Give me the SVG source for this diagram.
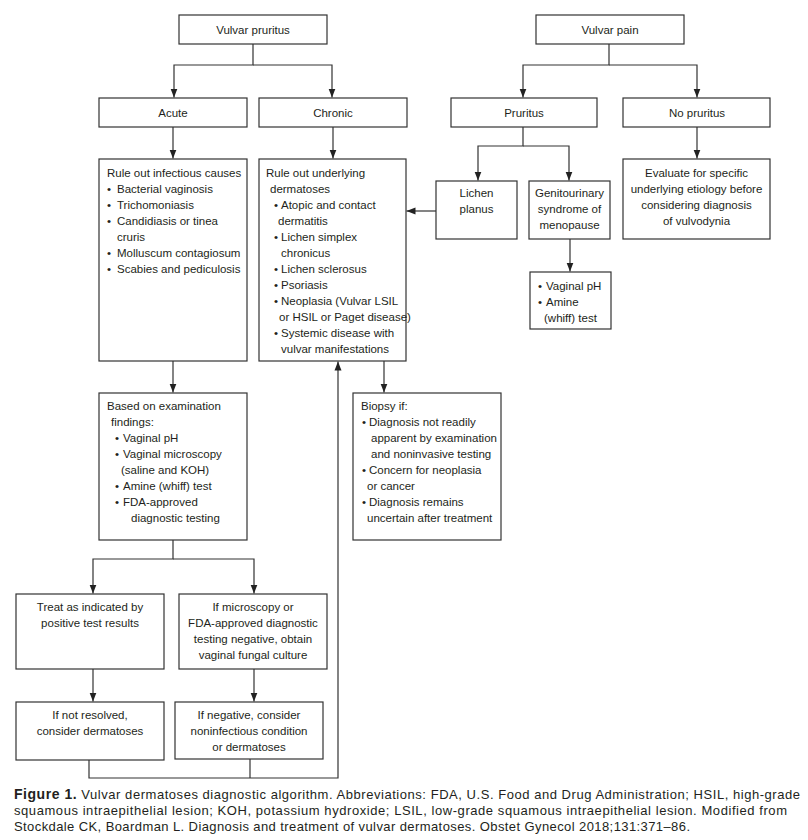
<svg xmlns="http://www.w3.org/2000/svg" width="808" height="840" viewBox="0 0 808 840">
<style>
.b{fill:#fff;stroke:#333;stroke-width:1.2}
.t{font-family:"Liberation Sans",Arial,sans-serif;font-size:11.5px;fill:#231f20}
.c{text-anchor:middle}
.ln{fill:none;stroke:#333;stroke-width:1.2}
.cap{font-family:"Liberation Sans",Arial,sans-serif;font-size:13px;fill:#231f20}
</style>
<defs>
<marker id="ah" markerUnits="userSpaceOnUse" markerWidth="10" markerHeight="8" refX="9" refY="4" orient="auto">
<path d="M0,0.5L9,4L0,7.5z" fill="#222"/>
</marker>
</defs>
<rect width="808" height="840" fill="#fff"/>
<g id="connectors">
<path class="ln" d="M253,44V65H174V97.5" marker-end="url(#ah)"/>
<path class="ln" d="M253,65H332V97.5" marker-end="url(#ah)"/>
<path class="ln" d="M609,44V65H523V97.5" marker-end="url(#ah)"/>
<path class="ln" d="M609,65H697V97.5" marker-end="url(#ah)"/>
<path class="ln" d="M173,127V158.5" marker-end="url(#ah)"/>
<path class="ln" d="M333,127V158.5" marker-end="url(#ah)"/>
<path class="ln" d="M523,127V146H478V180.5" marker-end="url(#ah)"/>
<path class="ln" d="M523,146H569V180.5" marker-end="url(#ah)"/>
<path class="ln" d="M697,127V158.5" marker-end="url(#ah)"/>
<path class="ln" d="M570,239V271.5" marker-end="url(#ah)"/>
<path class="ln" d="M436,211H406.5" marker-end="url(#ah)"/>
<path class="ln" d="M173,361V392.5" marker-end="url(#ah)"/>
<path class="ln" d="M384,361V392.5" marker-end="url(#ah)"/>
<path class="ln" d="M173,540V559H93V593.5" marker-end="url(#ah)"/>
<path class="ln" d="M173,559H254V593.5" marker-end="url(#ah)"/>
<path class="ln" d="M93,669V701.5" marker-end="url(#ah)"/>
<path class="ln" d="M254,669V701.5" marker-end="url(#ah)"/>
<path class="ln" d="M89,760V778H338V361.5" marker-end="url(#ah)"/>
<path class="ln" d="M250,759V778"/>
</g>
<g id="vulvar-pruritus"><rect class="b" x="179" y="15" width="148" height="29"/><text class="t c" x="253" y="34">Vulvar pruritus</text></g>
<g id="acute"><rect class="b" x="99" y="98" width="148" height="29"/><text class="t c" x="173" y="117">Acute</text></g>
<g id="chronic"><rect class="b" x="259" y="98" width="148" height="29"/><text class="t c" x="333" y="117">Chronic</text></g>
<g id="vulvar-pain"><rect class="b" x="536" y="15" width="148" height="29"/><text class="t c" x="610" y="34">Vulvar pain</text></g>
<g id="pruritus"><rect class="b" x="451" y="98" width="146" height="29"/><text class="t c" x="524" y="117">Pruritus</text></g>
<g id="no-pruritus"><rect class="b" x="623" y="98" width="147" height="29"/><text class="t c" x="697" y="117">No pruritus</text></g>
<g id="infectious"><rect class="b" x="99" y="159" width="148" height="202"/>
<text class="t"><tspan x="107" y="177">Rule out infectious causes</tspan>
<tspan x="107" y="193">•</tspan><tspan x="117">Bacterial vaginosis</tspan>
<tspan x="107" y="209">•</tspan><tspan x="117">Trichomoniasis</tspan>
<tspan x="107" y="225">•</tspan><tspan x="117">Candidiasis or tinea</tspan>
<tspan x="117" y="241">cruris</tspan>
<tspan x="107" y="257">•</tspan><tspan x="117">Molluscum contagiosum</tspan>
<tspan x="107" y="273">•</tspan><tspan x="117">Scabies and pediculosis</tspan></text></g>
<g id="rule-out-dermatoses"><rect class="b" x="259" y="159" width="147" height="202"/>
<text class="t"><tspan x="266" y="177">Rule out underlying</tspan>
<tspan x="270" y="193">dermatoses</tspan>
<tspan x="274" y="209">•</tspan><tspan x="281">Atopic and contact</tspan>
<tspan x="278" y="225">dermatitis</tspan>
<tspan x="274" y="241">•</tspan><tspan x="281">Lichen simplex</tspan>
<tspan x="281" y="257">chronicus</tspan>
<tspan x="274" y="273">•</tspan><tspan x="281">Lichen sclerosus</tspan>
<tspan x="274" y="289">•</tspan><tspan x="281">Psoriasis</tspan>
<tspan x="274" y="305">•</tspan><tspan x="281">Neoplasia (Vulvar LSIL</tspan>
<tspan x="279" y="321">or HSIL or Paget disease)</tspan>
<tspan x="274" y="337">•</tspan><tspan x="281">Systemic disease with</tspan>
<tspan x="281" y="353">vulvar manifestations</tspan></text></g>
<g id="lichen-planus"><rect class="b" x="436" y="181" width="81" height="58"/><text class="t c"><tspan x="476.5" y="197">Lichen</tspan><tspan x="476.5" y="213">planus</tspan></text></g>
<g id="gsm"><rect class="b" x="529" y="181" width="81" height="58"/><text class="t c"><tspan x="569.5" y="197">Genitourinary</tspan><tspan x="569.5" y="213">syndrome of</tspan><tspan x="569.5" y="229">menopause</tspan></text></g>
<g id="evaluate"><rect class="b" x="623" y="159" width="147" height="80"/><text class="t c"><tspan x="696.5" y="177">Evaluate for specific</tspan><tspan x="696.5" y="193">underlying etiology before</tspan><tspan x="696.5" y="209">considering diagnosis</tspan><tspan x="696.5" y="225">of vulvodynia</tspan></text></g>
<g id="vaginal-ph"><rect class="b" x="530" y="272" width="81" height="57"/>
<text class="t"><tspan x="538" y="290">•</tspan><tspan x="546">Vaginal pH</tspan>
<tspan x="538" y="306">•</tspan><tspan x="546">Amine</tspan>
<tspan x="544" y="322">(whiff) test</tspan></text></g>
<g id="examination"><rect class="b" x="99" y="393" width="148" height="147"/>
<text class="t"><tspan x="107" y="410">Based on examination</tspan>
<tspan x="111" y="426">findings:</tspan>
<tspan x="115" y="442">•</tspan><tspan x="123">Vaginal pH</tspan>
<tspan x="115" y="458">•</tspan><tspan x="123">Vaginal microscopy</tspan>
<tspan x="121" y="474">(saline and KOH)</tspan>
<tspan x="115" y="490">•</tspan><tspan x="123">Amine (whiff) test</tspan>
<tspan x="115" y="506">•</tspan><tspan x="123">FDA-approved</tspan>
<tspan x="131" y="522">diagnostic testing</tspan></text></g>
<g id="biopsy"><rect class="b" x="353" y="393" width="148" height="147"/>
<text class="t"><tspan x="361" y="410">Biopsy if:</tspan>
<tspan x="362" y="426">•</tspan><tspan x="369">Diagnosis not readily</tspan>
<tspan x="371" y="442">apparent by examination</tspan>
<tspan x="371" y="458">and noninvasive testing</tspan>
<tspan x="362" y="474">•</tspan><tspan x="369">Concern for neoplasia</tspan>
<tspan x="367" y="490">or cancer</tspan>
<tspan x="362" y="506">•</tspan><tspan x="369">Diagnosis remains</tspan>
<tspan x="367" y="522">uncertain after treatment</tspan></text></g>
<g id="treat"><rect class="b" x="16" y="594" width="148" height="75"/><text class="t c"><tspan x="90" y="611">Treat as indicated by</tspan><tspan x="90" y="627">positive test results</tspan></text></g>
<g id="microscopy-negative"><rect class="b" x="179" y="594" width="148" height="75"/><text class="t c"><tspan x="253" y="611">If microscopy or</tspan><tspan x="253" y="627">FDA-approved diagnostic</tspan><tspan x="253" y="643">testing negative, obtain</tspan><tspan x="253" y="659">vaginal fungal culture</tspan></text></g>
<g id="not-resolved"><rect class="b" x="16" y="702" width="148" height="58"/><text class="t c"><tspan x="90" y="719">If not resolved,</tspan><tspan x="90" y="735">consider dermatoses</tspan></text></g>
<g id="if-negative"><rect class="b" x="175" y="702" width="148" height="57"/><text class="t c"><tspan x="249" y="719">If negative, consider</tspan><tspan x="249" y="735">noninfectious condition</tspan><tspan x="249" y="751">or dermatoses</tspan></text></g>
<g id="caption">
<text class="cap" x="14" y="799" textLength="786" lengthAdjust="spacing"><tspan font-weight="bold" font-size="14px">Figure 1.</tspan> Vulvar dermatoses diagnostic algorithm. Abbreviations: FDA, U.S. Food and Drug Administration; HSIL, high-grade</text>
<text class="cap" x="14" y="815" textLength="773" lengthAdjust="spacing">squamous intraepithelial lesion; KOH, potassium hydroxide; LSIL, low-grade squamous intraepithelial lesion. Modified from</text>
<text class="cap" x="14" y="831" textLength="676" lengthAdjust="spacing">Stockdale CK, Boardman L. Diagnosis and treatment of vulvar dermatoses. Obstet Gynecol 2018;131:371–86.</text>
</g>
</svg>
